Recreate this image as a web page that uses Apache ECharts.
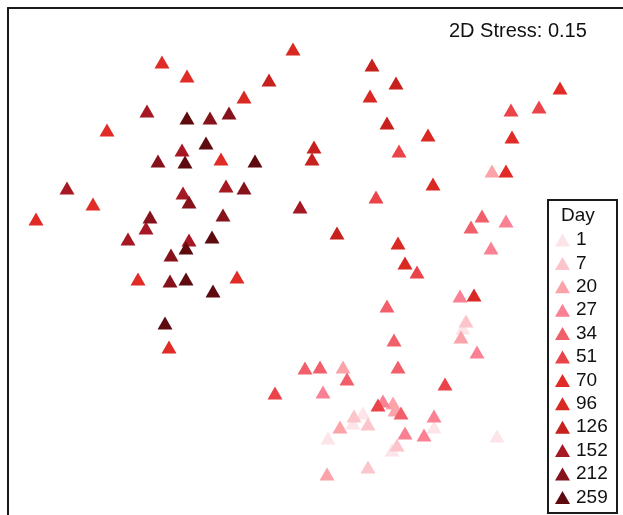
<!DOCTYPE html>
<html>
<head>
<meta charset="utf-8">
<script src="https://cdn.jsdelivr.net/npm/echarts@6/dist/echarts.min.js"></script>
<style>
  html, body { margin: 0; padding: 0; background: #fff; }
  #chart { width: 623px; height: 515px; }
</style>
</head>
<body>
<div id="chart"></div>
<script>
// NMDS ordination: sample scores [NMDS1, NMDS2] grouped by sampling day
const days = ['1', '7', '20', '27', '34', '51', '70', '96', '126', '152', '212', '259'];
const dayColors = ['#FCE4E8', '#FCC5CB', '#FBA3A9', '#F98193', '#F1606A', '#EA4349',
                   '#E12B27', '#DA2822', '#C7211E', '#A51824', '#86121C', '#5E0B10'];
const stressLabel = '2D Stress: 0.15';

const day1 = [[1.43, -0.68], [1.14, -1.67], [0.43, -1.53], [0.33, -1.63], [0.08, -1.78], [0.72, -1.90], [1.77, -1.76]];
const day7 = [[1.46, -0.61], [0.34, -1.56], [0.48, -1.64], [0.77, -1.85], [0.48, -2.07]];
const day20 = [[1.72, 0.89], [1.41, -0.77], [0.23, -1.07], [0.73, -1.43], [0.75, -1.50], [0.20, -1.67], [0.07, -2.14]];
const day27 = [[1.86, 0.39], [1.71, 0.12], [1.40, -0.36], [1.57, -0.92], [0.03, -1.32], [0.63, -1.41], [1.14, -1.56], [0.85, -1.73], [1.04, -1.75]];
const day34 = [[1.62, 0.44], [1.51, 0.33], [0.67, -0.46], [0.74, -0.80], [0.78, -1.07], [-0.15, -1.08], [0.00, -1.07], [0.27, -1.19], [0.81, -1.53]];
const day51 = [[0.79, 1.09], [0.56, 0.63], [2.19, 1.53], [1.91, 1.50], [0.97, -0.12], [-0.45, -1.33], [1.25, -1.24], [0.58, -1.45]];
const day70 = [[2.40, 1.72], [1.92, 1.23], [1.86, 0.89], [-1.58, 1.98], [-1.33, 1.84], [-2.13, 1.30], [-0.99, 1.01], [-2.27, 0.56], [-2.84, 0.41], [-1.82, -0.19], [-0.83, -0.17], [-1.51, -0.87]];
const day96 = [[0.50, 1.64], [1.08, 1.25], [1.13, 0.76], [0.78, 0.17], [-0.27, 2.11], [-0.76, 1.63], [0.85, -0.03], [1.54, -0.35]];
const day126 = [[0.52, 1.95], [0.76, 1.77], [0.67, 1.37], [-0.06, 1.13], [-0.08, 1.01], [0.17, 0.27], [-0.51, 1.80]];
const day152 = [[-1.73, 1.49], [-1.38, 1.10], [-2.53, 0.72], [-1.37, 0.67], [-0.94, 0.74], [-0.20, 0.53], [-1.74, 0.32], [-1.92, 0.21], [-1.31, 0.20]];
const day212 = [[-0.91, 1.47], [-1.10, 1.42], [-1.62, 0.99], [-1.31, 0.58], [-0.76, 0.72], [-1.70, 0.43], [-0.97, 0.45], [-1.49, 0.05], [-1.50, -0.21]];
const day259 = [[-1.33, 1.42], [-1.14, 1.17], [-1.35, 0.98], [-0.65, 0.99], [-1.34, 0.12], [-1.08, 0.23], [-1.34, -0.19], [-1.07, -0.31], [-1.55, -0.63]];

const scoresByDay = [day1, day7, day20, day27, day34, day51, day70, day96, day126, day152, day212, day259];

const FONT = '"Liberation Sans", Arial, Helvetica, sans-serif';
const FRAME = { show: true, onZero: false, lineStyle: { color: '#1a1a1a', width: 2 } };

const chart = echarts.init(document.getElementById('chart'), null, { renderer: 'canvas' });

const series = days.map((d, i) => ({
  name: d,
  type: 'scatter',
  data: scoresByDay[i],
  symbol: 'triangle',
  symbolSize: [15, 13],
  itemStyle: { color: dayColors[i], opacity: 1 },
  emphasis: { disabled: true },
  z: 2 + i
}));

chart.setOption({
  animation: false,
  backgroundColor: '#ffffff',
  // plot panel runs past the right and bottom edges of the canvas;
  // only its left and top frame lines are visible
  grid: { left: 8, top: 8, right: 0, bottom: 0, show: false },
  xAxis: {
    type: 'value', min: -3.12, max: 3.03, position: 'top',
    axisLine: FRAME, axisTick: { show: false },
    axisLabel: { show: false }, splitLine: { show: false }
  },
  yAxis: {
    type: 'value', min: -2.55, max: 2.52, position: 'left',
    axisLine: FRAME, axisTick: { show: false },
    axisLabel: { show: false }, splitLine: { show: false }
  },
  legend: {
    orient: 'vertical',
    left: 555, top: 230,
    padding: 0,
    itemWidth: 15, itemHeight: 13,
    itemGap: 3.4,
    icon: 'triangle',
    selectedMode: false,
    data: days,
    textStyle: { color: '#111', fontSize: 19, fontFamily: FONT, lineHeight: 20, padding: [0, 0, 0, 1] }
  },
  graphic: [
    {
      type: 'rect', z: 50,
      shape: { x: 548, y: 200, width: 69, height: 313 },
      style: { fill: 'rgba(255,255,255,0)', stroke: '#1a1a1a', lineWidth: 2 }
    },
    {
      type: 'text', z: 51, left: 561, top: 206,
      style: { text: 'Day', font: '19px ' + FONT, fill: '#111' }
    },
    {
      type: 'text', z: 51, left: 449, top: 21,
      style: { text: stressLabel, font: '20px ' + FONT, fill: '#111' }
    }
  ],
  series: series
});
</script>
</body>
</html>
